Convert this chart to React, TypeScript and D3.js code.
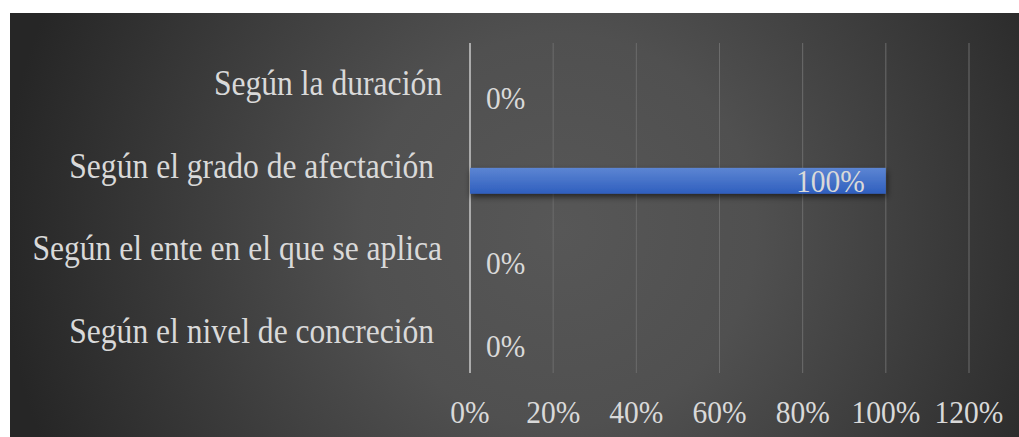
import React from 'react';
import * as d3 from 'd3';

// categories listed top to bottom (trailing spaces are in the original labels)
const categories = [
  'Según la duración',
  'Según el grado de afectación ',
  'Según el ente en el que se aplica',
  'Según el nivel de concreción ',
];
const values = [0, 1, 0, 0];
// the chart keeps a second (empty) series slot, so the bar sits below the band centre
const seriesSlots = ['vacío', 'Porcentaje'];
const xTicks = [0, 0.2, 0.4, 0.6, 0.8, 1, 1.2];

const W = 1019;
const H = 437;
const font = '"Liberation Serif", "Times New Roman", serif';
const textColor = '#d9d9d9';
const stretch = 1.1; // the original picture is slightly stretched vertically

const App: React.FC = () => {
  const x = d3.scaleLinear().domain([0, 1.2]).range([470, 969]);
  const y = d3.scaleBand<string>().domain(categories).range([43, 373]).padding(0);
  const half = 27;
  const sub = d3
    .scaleBand<string>()
    .domain(seriesSlots)
    .range([y.bandwidth() / 2 - half, y.bandwidth() / 2 + half])
    .paddingInner(0.08);
  const pct = d3.format('.0%');
  const [top, bottom] = y.range();

  return (
    <svg width={W} height={H} style={{ position: 'absolute', left: 0, top: 0 }}>
      <defs>
        <radialGradient id="bg" gradientUnits="userSpaceOnUse" cx={560} cy={230} r={560}>
          <stop offset="0" stopColor="#575757" />
          <stop offset="0.35" stopColor="#505050" />
          <stop offset="1" stopColor="#262626" />
        </radialGradient>
        <linearGradient id="bar" x1="0" y1="0" x2="0" y2="1">
          <stop offset="0" stopColor="#5c85d3" />
          <stop offset="1" stopColor="#2f5fbe" />
        </linearGradient>
        <filter id="shadow" x="-5%" y="-50%" width="110%" height="200%">
          <feDropShadow dx="1" dy="3" stdDeviation="3" floodColor="#000" floodOpacity="0.6" />
        </filter>
      </defs>

      <rect x={10} y={13} width={W - 10} height={H - 13} fill="url(#bg)" />

      {/* gridlines */}
      {xTicks.slice(1).map((t) => (
        <line key={t} x1={x(t)} x2={x(t)} y1={top} y2={bottom} stroke="#6c6c6c" strokeWidth={1} />
      ))}
      {/* category axis */}
      <line x1={x(0)} x2={x(0)} y1={top} y2={bottom} stroke="#ababab" strokeWidth={2} />

      {/* bars */}
      {categories.map((c, i) =>
        values[i] > 0 ? (
          <rect
            key={c}
            x={x(0)}
            y={(y(c) ?? 0) + (sub('Porcentaje') ?? 0)}
            width={x(values[i]) - x(0)}
            height={sub.bandwidth()}
            fill="url(#bar)"
            filter="url(#shadow)"
          />
        ) : null
      )}

      {/* data labels */}
      {categories.map((c, i) => {
        const cy = (y(c) ?? 0) + (sub('Porcentaje') ?? 0) + sub.bandwidth() / 2;
        const inside = values[i] > 0;
        const tx = inside ? x(values[i]) - 21 : x(0) + 16;
        return (
          <text
            key={c}
            transform={`translate(${tx},${cy}) scale(1,${stretch})`}
            textAnchor={inside ? 'end' : 'start'}
            dominantBaseline="central"
            fontFamily={font}
            fontSize={29.5}
            fill={textColor}
          >
            {pct(values[i])}
          </text>
        );
      })}

      {/* category labels */}
      {categories.map((c) => (
        <text
          key={c}
          transform={`translate(442,${(y(c) ?? 0) + y.bandwidth() / 2 - 1}) scale(1,${stretch})`}
          textAnchor="end"
          dominantBaseline="central"
          fontFamily={font}
          fontSize={31.6}
          fill={textColor}
          style={{ whiteSpace: 'pre' }}
        >
          {c}
        </text>
      ))}

      {/* value axis labels */}
      {xTicks.map((t) => (
        <text
          key={t}
          transform={`translate(${x(t)},423) scale(1,${stretch})`}
          textAnchor="middle"
          fontFamily={font}
          fontSize={29.5}
          fill={textColor}
        >
          {pct(t)}
        </text>
      ))}
    </svg>
  );
};

export default App;
